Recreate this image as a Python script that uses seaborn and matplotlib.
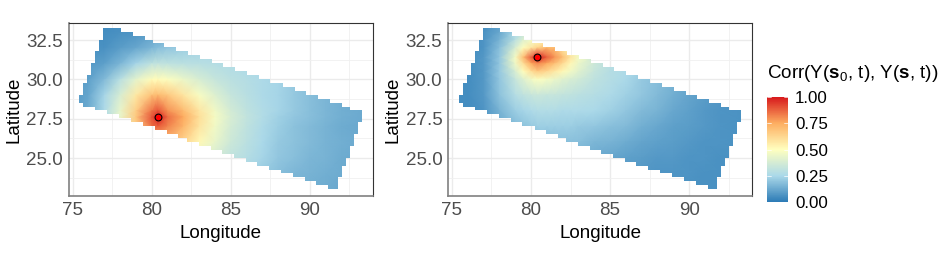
import numpy as np
import pandas as pd
import matplotlib
matplotlib.use("Agg")
import matplotlib.pyplot as plt
import seaborn as sns
from matplotlib.colors import LinearSegmentedColormap, Normalize
from matplotlib.cm import ScalarMappable
from matplotlib.patches import PathPatch
from matplotlib.path import Path

# Study-region outline: one west/east extent per 0.25-degree latitude row, north to south
row_west = [76.94,76.94,76.94,76.68,76.68,76.68,76.43,76.43,76.43,76.18,76.18,76.18,75.93,75.93,
            75.67,75.67,75.67,75.42,75.42,75.67,76.43,77.19,77.95,78.71,79.46,80.22,80.94,81.69,
            82.20,82.96,83.72,84.43,85.19,85.95,86.66,87.42,88.18,88.94,89.69,90.41,91.17]
row_east = [78.03,78.79,79.55,80.05,80.77,81.53,82.28,83.04,83.80,84.52,85.27,86.03,86.79,87.50,
            88.30,89.04,89.78,90.52,91.25,92.01,92.52,93.27,93.27,93.27,93.02,93.02,93.02,92.77,
            92.77,92.77,92.52,92.52,92.52,92.26,92.26,92.01,92.01,92.01,91.76,91.76,91.76]
row_top_north = 33.28
row_height = 0.25

# Panel 1 correlation, site at (80.4, 27.6)
p1_lon = [75,76,77,78,79,80,80.4,81,82,83,84,85,86,87,88,89,90,91,92,94]
p1_lat = [34,33,32,31,30,29,28,27.6,27,26,25,24,23]
p1_val = [
 [.04,.04,.04,.05,.06,.08,.09,.10,.12,.15,.18,.20,.20,.20,.18,.16,.14,.12,.10,.08],
 [.05,.05,.05,.06,.07,.10,.11,.12,.15,.18,.20,.22,.22,.20,.18,.17,.15,.13,.11,.09],
 [.06,.06,.06,.09,.12,.16,.18,.20,.22,.24,.25,.25,.24,.22,.20,.18,.16,.14,.12,.10],
 [.07,.08,.10,.16,.24,.31,.32,.31,.30,.29,.28,.27,.26,.24,.22,.20,.18,.15,.13,.11],
 [.08,.10,.17,.29,.42,.51,.51,.49,.44,.38,.33,.30,.28,.26,.24,.21,.18,.16,.14,.12],
 [.08,.12,.24,.38,.57,.69,.71,.67,.58,.48,.40,.33,.29,.26,.24,.21,.18,.16,.14,.12],
 [.08,.13,.26,.43,.65,.85,.90,.80,.71,.58,.46,.37,.31,.27,.24,.21,.18,.16,.14,.12],
 [.08,.13,.26,.43,.67,.90,1.0,.86,.75,.60,.47,.38,.32,.27,.23,.20,.18,.16,.14,.12],
 [.08,.13,.26,.43,.65,.85,.88,.82,.72,.58,.46,.37,.31,.26,.22,.19,.17,.15,.13,.12],
 [.08,.13,.24,.40,.55,.65,.67,.69,.63,.52,.43,.35,.30,.25,.21,.19,.17,.15,.14,.12],
 [.08,.12,.22,.35,.45,.50,.50,.50,.47,.43,.37,.31,.28,.24,.20,.18,.16,.15,.13,.12],
 [.08,.12,.20,.30,.38,.40,.40,.40,.38,.35,.31,.28,.25,.21,.18,.16,.15,.14,.13,.12],
 [.08,.12,.18,.25,.30,.33,.33,.33,.32,.30,.27,.25,.22,.19,.17,.15,.14,.13,.12,.12],
]

# Panel 2 correlation, site at (80.4, 31.4)
p2_lon = [75,76,77,78,79,79.5,80,80.4,81,81.5,82,82.5,83,84,85,86,87,88,89,90,91,92,94]
p2_lat = [34,33,32.5,32,31.4,31,30.5,30,29,28,27,26,25,24,23]
p2_val = [
 [.05,.05,.05,.08,.16,.20,.25,.28,.30,.30,.29,.28,.27,.25,.23,.22,.20,.17,.14,.12,.10,.08,.06],
 [.05,.05,.06,.12,.25,.32,.38,.40,.42,.40,.38,.36,.33,.29,.26,.24,.21,.18,.15,.12,.10,.08,.06],
 [.05,.05,.07,.15,.30,.40,.46,.50,.54,.50,.44,.40,.36,.30,.27,.25,.21,.18,.15,.12,.10,.08,.06],
 [.05,.05,.07,.18,.38,.50,.58,.64,.72,.70,.58,.48,.41,.33,.28,.26,.22,.19,.15,.12,.10,.08,.06],
 [.05,.05,.08,.20,.47,.70,.88,1.0,.88,.79,.70,.58,.47,.35,.29,.26,.22,.19,.15,.13,.10,.08,.06],
 [.05,.05,.08,.20,.45,.60,.75,.81,.75,.69,.61,.52,.44,.35,.29,.26,.22,.19,.15,.13,.10,.08,.06],
 [.05,.05,.08,.21,.38,.50,.60,.66,.62,.57,.52,.46,.41,.33,.28,.26,.22,.18,.15,.12,.10,.08,.06],
 [.05,.05,.08,.20,.33,.40,.46,.49,.47,.44,.41,.38,.36,.31,.28,.25,.21,.18,.15,.12,.10,.08,.06],
 [.05,.05,.08,.19,.28,.31,.33,.34,.33,.33,.32,.31,.30,.28,.26,.23,.20,.17,.14,.11,.09,.08,.06],
 [.05,.05,.07,.15,.22,.24,.26,.27,.27,.27,.26,.26,.26,.25,.23,.20,.17,.15,.12,.10,.08,.07,.06],
 [.05,.05,.06,.12,.17,.19,.21,.22,.22,.22,.22,.22,.21,.20,.18,.17,.14,.12,.10,.09,.08,.07,.06],
 [.05,.05,.06,.09,.13,.15,.16,.17,.17,.18,.18,.18,.18,.16,.15,.13,.11,.10,.09,.08,.07,.07,.06],
 [.05,.05,.05,.07,.09,.11,.12,.13,.13,.14,.14,.14,.14,.13,.11,.10,.09,.08,.08,.07,.07,.06,.06],
 [.05,.05,.05,.05,.07,.08,.09,.10,.10,.11,.11,.11,.11,.10,.09,.08,.08,.07,.07,.07,.06,.06,.06],
 [.05,.05,.05,.05,.06,.07,.08,.08,.09,.09,.09,.09,.09,.09,.08,.07,.07,.07,.07,.06,.06,.06,.06],
]

site_lon = [80.4, 80.4]
site_lat = [27.6, 31.4]

lon_ticks = [75, 80, 85, 90]
lat_ticks = [25.0, 27.5, 30.0, 32.5]
lon_minor = [77.5, 82.5, 87.5, 92.5]
lat_minor = [23.75, 26.25, 28.75, 31.25]
cbar_ticks = [0.0, 0.25, 0.5, 0.75, 1.0]
ramp = ["#2C7BB6", "#ABD9E9", "#FFFFBF", "#FDAE61", "#D7191C"]

sns.set_theme(style="whitegrid")
plt.rcParams["font.family"] = ["Liberation Sans", "DejaVu Sans"]
plt.rcParams["mathtext.fontset"] = "custom"
plt.rcParams["mathtext.rm"] = "Liberation Sans"
plt.rcParams["mathtext.bf"] = "Liberation Sans:bold"
plt.rcParams["mathtext.it"] = "Liberation Sans:italic"

W, H = 947, 263
fig = plt.figure(figsize=(W / 100, H / 100), dpi=100, facecolor="white")
cmap = LinearSegmentedColormap.from_list("corr", ramp)
norm = Normalize(0, 1)


def region_path():
    n = len(row_west)
    verts = []
    for k in range(n):
        t = row_top_north - k * row_height
        verts += [(row_west[k], t), (row_west[k], t - row_height)]
    for k in range(n - 1, -1, -1):
        t = row_top_north - k * row_height
        verts += [(row_east[k], t - row_height), (row_east[k], t)]
    verts.append(verts[0])
    return Path(verts, closed=True)


def panel(left_px, lons, lats, vals, slon, slat):
    ax = fig.add_axes([left_px / W, 1 - 196 / H, 304 / W, 173.3 / H])
    ax.set_xlim(74.75, 93.97)
    ax.set_ylim(22.6, 33.6)
    ax.set_facecolor("white")
    mesh = ax.pcolormesh(lons, lats, np.array(vals), cmap=cmap, norm=norm,
                         shading="gouraud", zorder=2)
    clip = PathPatch(region_path(), transform=ax.transData, fc="none", ec="none")
    ax.add_patch(clip)
    mesh.set_clip_path(clip)
    sns.scatterplot(data=pd.DataFrame({"lon": [slon], "lat": [slat]}), x="lon", y="lat",
                    ax=ax, color="#FF0000", edgecolor="black", linewidth=0.8, s=24,
                    zorder=4, legend=False)
    ax.set_xticks(lon_ticks)
    ax.set_yticks(lat_ticks)
    ax.set_yticklabels([f"{v:.1f}" for v in lat_ticks])
    ax.set_xticks(lon_minor, minor=True)
    ax.set_yticks(lat_minor, minor=True)
    ax.set_axisbelow(True)
    ax.grid(True, which="major", color="#EBEBEB", lw=1.0, zorder=0)
    ax.grid(True, which="minor", color="#F0F0F0", lw=0.6, zorder=0)
    ax.tick_params(axis="both", which="both", length=0, labelsize=13.5,
                   labelcolor="#4D4D4D", pad=4)
    ax.set_xlabel("Longitude", fontsize=13.5, color="black", labelpad=5)
    ax.set_ylabel("Latitude", fontsize=13.5, color="black", labelpad=3)
    for side in ["top", "right"]:
        ax.spines[side].set_color("#333333")
        ax.spines[side].set_linewidth(0.8)
    for side in ["left", "bottom"]:
        ax.spines[side].set_color("#808080")
        ax.spines[side].set_linewidth(1.2)
    return ax


panel(68.7, p1_lon, p1_lat, p1_val, site_lon[0], site_lat[0])
panel(448, p2_lon, p2_lat, p2_val, site_lon[1], site_lat[1])

cax = fig.add_axes([767 / W, 1 - 202 / H, 21 / W, 105 / H])
cb = fig.colorbar(ScalarMappable(norm=norm, cmap=cmap), cax=cax, ticks=cbar_ticks)
cb.outline.set_visible(False)
cb.ax.set_yticklabels([f"{v:.2f}" for v in cbar_ticks])
cb.ax.tick_params(length=0, labelsize=12.2, labelcolor="black", pad=5)
cb.ax.grid(False)
for v in cbar_ticks:
    cb.ax.plot([0, 0.2], [v, v], color="white", lw=0.5, transform=cb.ax.get_yaxis_transform())
    cb.ax.plot([0.8, 1], [v, v], color="white", lw=0.5, transform=cb.ax.get_yaxis_transform())

fig.text(767 / W, 1 - 73.5 / H, r"Corr(Y($\mathbf{s}_0$, t), Y($\mathbf{s}$, t))",
         fontsize=13.6, color="black", ha="left", va="center")

fig.savefig("out.png", dpi=100, facecolor="white")
